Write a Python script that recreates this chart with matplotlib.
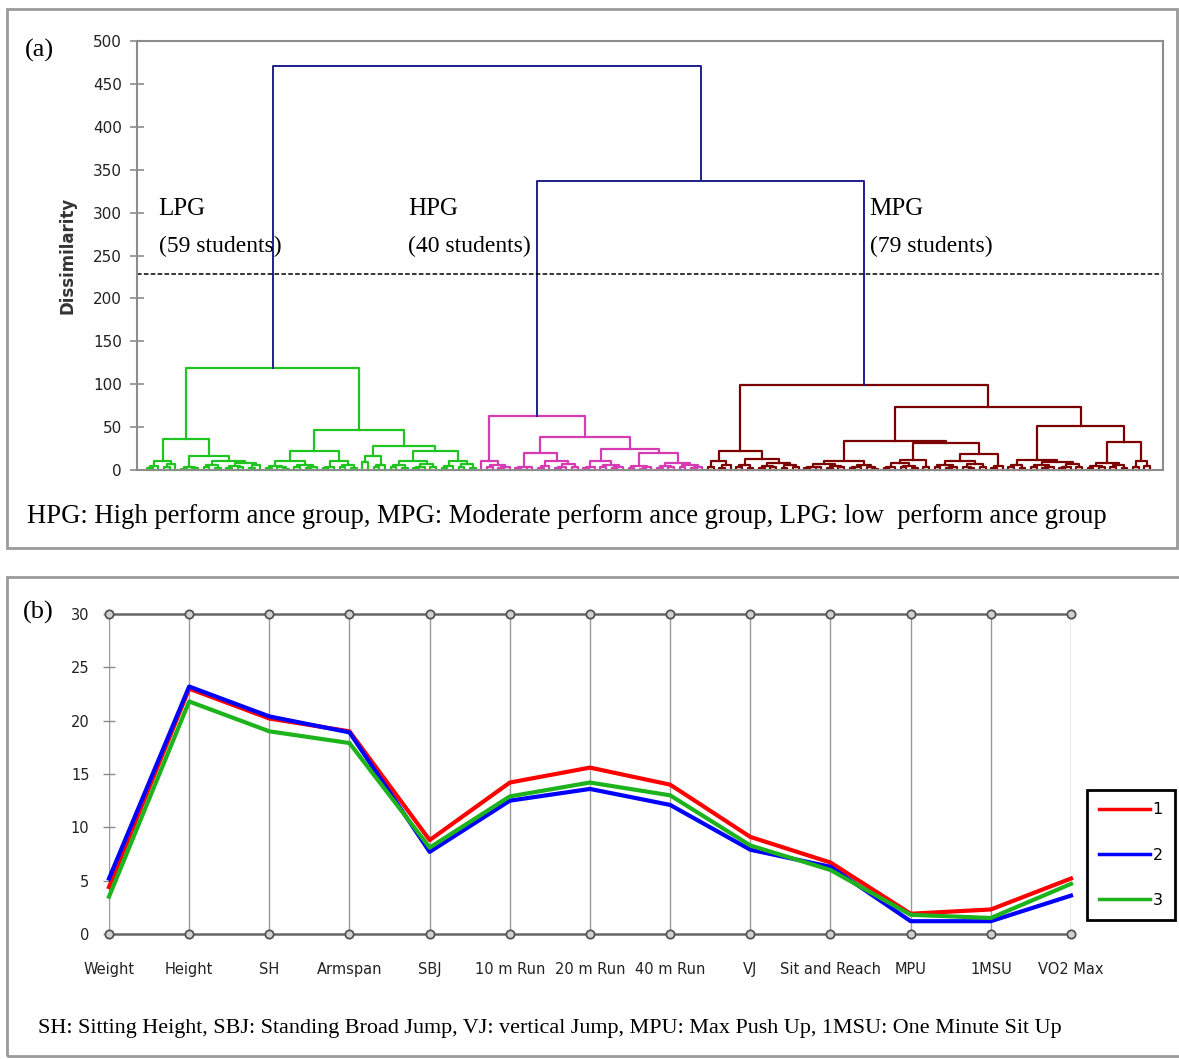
import matplotlib
matplotlib.use('Agg')
import matplotlib.pyplot as plt
from matplotlib.patches import Rectangle

# ---- panel (a): dendrogram as [merge height, left, right]; 0 = one student
LPG_TREE = [119,
            [36,
             [10.5, [5, [2, 0, 0], 0], [7, [3, 0, 0], 0]],
             [16,
              [3, [1.5, 0, 0], [2, 0, 0]],
              [10, [6, [3, 0, 0], [2, 0, 0]],
               [8, [5, [2, 0, 0], [3, 0, 0]], [6, [2, 0, 0], 0]]]]],
            [47,
             [22,
              [10, [5, [2, 0, 0], [3, 0, [1, 0, 0]]], [6, [3, 0, 0], [4, [2, 0, 0], 0]]],
              [10, [4, [2, 0, 0], 0], [6, [3, 0, 0], [2, 0, 0]]]],
             [28,
              [16, [9, 0, 0], [6, [3, 0, 0], 0]],
              [22,
               [10, [6, [3, 0, 0], [2, 0, 0]], [7, [4, [2, 0, 0], 0], [3, 0, 0]]],
               [10, [5, [2, 0, 0], 0], [7, [3, 0, 0], [2, 0, 0]]]]]]]

HPG_TREE = [63,
            [10, 0, [6, [3, 0, 0], [4, [2, 0, 0], 0]]],
            [39,
             [20,
              [4, [2, 0, 0], [3, 0, 0]],
              [10, [5, [2, 0, 0], 0], [7, [4, [2, 0, 0], 0], [3, 0, 0]]]],
             [24,
              [10, [4, [2, 0, 0], 0], [6, [3, 0, 0], [4, [2, 0, 0], 0]]],
              [20,
               [5, [2, 0, 0], [3, [1.5, 0, 0], 0]],
               [8, [5, [2, 0, 0], [3, 0, 0]], [6, [3, 0, 0], [4, [2, 0, 0], 0]]]]]]]

MPG_TREE = [99,
            [22,
             [10, [3, 0, 0], [6, [2, 0, 0], 0]],
             [13, [6, [3, 0, 0], [2, 0, 0]],
              [8, [5, [2, 0, 0], [3, 0, 0]], [6, [2, 0, 0], [3, 0, 0]]]]],
            [74,
             [34,
              [10, [7, [4, [2, 0, 0], [3, 0, 0]], [5, [2, 0, 0], [3, 0, 0]]],
               [6, [4, [2, 0, 0], 0], [3, 0, [1.5, 0, 0]]]],
              [32,
               [12, [8, [4, [2, 0, 0], 0], [5, [3, 0, 0], [2, 0, 0]]], [4, 0, 0]],
               [19,
                [10, [6, [3, 0, 0], [4, [2, 0, 0], 0]], [7, [4, 0, [2, 0, 0]], [3, 0, 0]]],
                [5, [2, 0, 0], 0]]]],
             [51,
              [12, [6, [3, 0, 0], [2, 0, 0]],
               [9, [6, [3, 0, 0], [4, [2, 0, 0], 0]], [7, [4, [2, 0, 0], 0], [3, 0, 0]]]],
              [33,
               [8, [5, [2, 0, 0], [3, 0, 0]], [6, [3, 0, 0], [2, 0, 0]]],
               [10, [3, 0, 0], [5, 0, 0]]]]]]

HPG_MPG_HEIGHT = 337
ALL_HEIGHT = 471
CUT_LEVEL = 228
group_names = ['LPG', 'HPG', 'MPG']
group_sizes = ['(59 students)', '(40 students)', '(79 students)']
dendro_ticks = [0, 50, 100, 150, 200, 250, 300, 350, 400, 450, 500]

# ---- panel (b): cluster profiles
variables = ['Weight', 'Height', 'SH', 'Armspan', 'SBJ', '10 m Run', '20 m Run',
             '40 m Run', 'VJ', 'Sit and Reach', 'MPU', '1MSU', 'VO2 Max']
cluster1 = [4.4, 23.0, 20.2, 19.0, 8.8, 14.2, 15.6, 14.0, 9.1, 6.7, 1.9, 2.3, 5.2]
cluster2 = [5.2, 23.2, 20.4, 18.9, 7.7, 12.5, 13.6, 12.1, 7.9, 6.3, 1.2, 1.2, 3.6]
cluster3 = [3.5, 21.8, 19.0, 17.9, 8.1, 12.9, 14.2, 13.0, 8.3, 6.0, 1.8, 1.5, 4.7]
profile_ticks = [0, 5, 10, 15, 20, 25, 30]

GREEN = '#1fc41f'
PINK = '#d53cb4'
DARKRED = '#7d0000'
NAVY = '#1f1f8f'
SERIF = 'Liberation Serif'

W, H = 1179, 1059
fig = plt.figure(figsize=(W / 100, H / 100), dpi=100)


def px(x0, y0, x1, y1):
    # pixel box -> figure fraction rectangle
    return [x0 / W, 1 - y1 / H, (x1 - x0) / W, (y1 - y0) / H]


def draw_tree(ax, node, slot, color):
    # returns x and height of node, leaves get the next free slot
    if not isinstance(node, list):
        x = slot[0]
        slot[0] += 1
        return x, 0
    h, left, right = node
    xl, hl = draw_tree(ax, left, slot, color)
    xr, hr = draw_tree(ax, right, slot, color)
    ax.plot([xl, xl, xr, xr], [hl, h, h, hr], color=color, lw=1.6, clip_on=False)
    return (xl + xr) / 2, h


# outer frames
for box in [(7, 9, 1177, 548), (7, 577, 1185, 1056)]:
    fig.patches.append(Rectangle((box[0] / W, 1 - box[3] / H), (box[2] - box[0]) / W,
                                 (box[3] - box[1]) / H, transform=fig.transFigure,
                                 fill=False, edgecolor='#9a9a9a', lw=2))

# ---------------- panel (a)
ax = fig.add_axes(px(137, 41, 1163, 470))
slot = [0]
x_l, h_l = draw_tree(ax, LPG_TREE, slot, GREEN)
x_h, h_h = draw_tree(ax, HPG_TREE, slot, PINK)
x_m, h_m = draw_tree(ax, MPG_TREE, slot, DARKRED)
ax.plot([x_h, x_h, x_m, x_m], [h_h, HPG_MPG_HEIGHT, HPG_MPG_HEIGHT, h_m], color=NAVY, lw=1.4)
x_hm = (x_h + x_m) / 2
ax.plot([x_l, x_l, x_hm, x_hm], [h_l, ALL_HEIGHT, ALL_HEIGHT, HPG_MPG_HEIGHT], color=NAVY, lw=1.4)
n = slot[0]
ax.axhline(CUT_LEVEL, color='black', lw=1.1, ls=(0, (3, 1.5)))
ax.set_xlim(-1.76, n - 1 + 2.3)
ax.set_ylim(0, 500)
ax.set_xticks([])
ax.set_yticks(dendro_ticks)
ax.tick_params(axis='y', direction='inout', length=10, width=1.2, color='#8c8c8c',
               labelsize=11, labelcolor='#222222', pad=6)
for s in ax.spines.values():
    s.set_color('#8c8c8c')
    s.set_linewidth(1.5)
ax.set_ylabel('Dissimilarity', fontsize=12, fontweight='bold', color='#333333', labelpad=12)

label_x = [0.021, 0.264, 0.714]
for name, size, lx in zip(group_names, group_sizes, label_x):
    ax.text(lx, 0.608, name, transform=ax.transAxes, fontsize=18, family=SERIF, va='center')
    ax.text(lx, 0.522, size, transform=ax.transAxes, fontsize=17, family=SERIF, va='center')

fig.text(25 / W, 1 - 50 / H, '(a)', fontsize=19, family=SERIF, va='center')
fig.text(27 / W, 1 - 517 / H,
         'HPG: High perform ance group, MPG: Moderate perform ance group, LPG: low  perform ance group',
         fontsize=19.2, family=SERIF, va='center')

# ---------------- panel (b)
bx = fig.add_axes(px(109, 614, 1071, 934))
xs = list(range(len(variables)))
for xv in xs:
    bx.axvline(xv, color='#9a9a9a', lw=1, zorder=1)
bx.plot(xs, cluster1, color='#ff0000', lw=3, clip_on=False, zorder=3, label='1')
bx.plot(xs, cluster2, color='#0000ff', lw=3, clip_on=False, zorder=3, label='2')
bx.plot(xs, cluster3, color='#1db31d', lw=3, clip_on=False, zorder=3, label='3')
for yv in (profile_ticks[0], profile_ticks[-1]):
    bx.plot(xs, [yv] * len(xs), 'o', mfc='#d0d0d0', mec='#555555', ms=6, mew=1.3,
            clip_on=False, zorder=4)
bx.set_xlim(0, len(variables) - 1)
bx.set_ylim(profile_ticks[0], profile_ticks[-1])
bx.set_yticks(profile_ticks)
bx.set_xticks(xs)
bx.set_xticklabels(variables)
bx.tick_params(axis='y', direction='inout', length=8, width=1, color='#8c8c8c',
               labelsize=10.5, labelcolor='#222222', pad=10)
bx.tick_params(axis='x', length=0, labelsize=10.5, labelcolor='#222222', pad=20)
for side in ('left', 'right'):
    bx.spines[side].set_visible(False)
for side in ('top', 'bottom'):
    bx.spines[side].set_color('#666666')
    bx.spines[side].set_linewidth(1.8)

leg = bx.legend(loc='center left', bbox_to_anchor=(1087 / W, 1 - 855 / H),
                bbox_transform=fig.transFigure, fancybox=False, edgecolor='black',
                framealpha=1, fontsize=11.5, handlelength=3.2, handletextpad=0.15,
                labelspacing=1.9, borderpad=0.75, borderaxespad=0)
leg.get_frame().set_linewidth(2)
for line in leg.get_lines():
    line.set_linewidth(2.5)

fig.text(23 / W, 1 - 612 / H, '(b)', fontsize=19, family=SERIF, va='center')
fig.text(38 / W, 1 - 1028 / H,
         'SH: Sitting Height, SBJ: Standing Broad Jump, VJ: vertical Jump, MPU: Max Push Up, 1MSU: One Minute Sit Up',
         fontsize=15.9, family=SERIF, va='center')

fig.savefig('out.png', dpi=100)
